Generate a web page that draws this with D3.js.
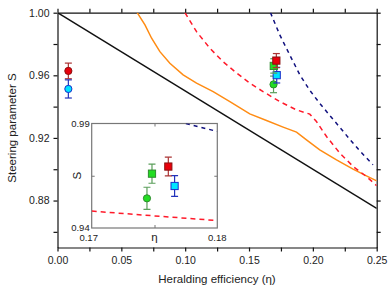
<!DOCTYPE html>
<html lang="en">
<head>
<meta charset="utf-8">
<title>Steering parameter vs heralding efficiency</title>
<script src="https://cdn.jsdelivr.net/npm/d3@7"></script>
<style>
  body { margin: 0; background: #fff; }
  text { font-family: "Liberation Sans", Arial, sans-serif; fill: #222; }
  .axis path, .axis line { stroke: #111; stroke-width: 1.2; }
  .iaxis path, .iaxis line { stroke: #777; stroke-width: 1; }
</style>
</head>
<body>
<script>
// ---- data ----
// bound lines (eta, S)
var blackLine = [[0, 1.0], [0.25, 0.875]];
var orangeCurve = [[0.0624,1.0],[0.0685,0.9922],[0.0737,0.9837],[0.0802,0.9751],[0.088,0.9677],
  [0.0984,0.9603],[0.1089,0.955],[0.1219,0.9496],[0.135,0.9432],[0.1506,0.9354],[0.1637,0.9311],
  [0.1767,0.9269],[0.1872,0.9237],[0.195,0.9188],[0.2054,0.9124],[0.2185,0.906],[0.2315,0.9001],
  [0.2419,0.8958],[0.25,0.8926]];
var redCurve = [[0.0998,1.0],[0.1089,0.9879],[0.1193,0.9773],[0.1297,0.9687],[0.1389,0.9624],
  [0.1506,0.955],[0.161,0.9496],[0.1741,0.9432],[0.1872,0.9379],[0.1976,0.9352],[0.2028,0.9305],
  [0.2107,0.9209],[0.2211,0.9103],[0.2315,0.9018],[0.2419,0.8954],[0.25,0.8895]];
var navyCurve = [[0.1668,1.0],[0.1741,0.9858],[0.1819,0.973],[0.1898,0.9603],[0.1976,0.9504],
  [0.2054,0.9421],[0.2132,0.9344],[0.2211,0.9268],[0.2289,0.9191],[0.2367,0.9118],[0.2471,0.9028]];

// measured points: eta in main plot, eta in inset, S, error
var pointNames = ["redLow", "cyanLow", "greenCircle", "greenSquare", "redSquare", "cyanSquare"];
var pointEta   = [0.0085, 0.0085, 0.1692, 0.1694, 0.1714, 0.1717];
var pointEtaIn = [null, null, 0.1744, 0.1748, 0.1761, 0.1766];
var pointS     = [0.9628, 0.9513, 0.9542, 0.9660, 0.9694, 0.9601];
var pointErr   = [0.0050, 0.0058, 0.0053, 0.0046, 0.0045, 0.0050];
var pointShape = ["circle", "circle", "circle", "square", "square", "square"];
var pointFill  = ["#e8000b", "#00e5ff", "#22dd22", "#22dd22", "#e8000b", "#00e5ff"];
var pointEdge  = ["#8b1010", "#1a2ecc", "#2e8b2e", "#2e8b2e", "#8b1010", "#1a2ecc"];
var pointBar   = ["#a33", "#2233bb", "#5a9e5a", "#5a9e5a", "#a33", "#2233bb"];

// inset lines
var insetRed  = [[0.17, 0.9481], [0.175, 0.9458], [0.1797, 0.9437]];
var insetNavy = [[0.1775, 0.99], [0.18, 0.9862]];

var xMajor = [0, 0.05, 0.10, 0.15, 0.20, 0.25];
var xMinor = [0.025, 0.075, 0.125, 0.175, 0.225];
var yMajor = [0.88, 0.92, 0.96, 1.00];
var yMinor = [0.86, 0.90, 0.94, 0.98];

var w = 390, h = 286;
var svg = d3.select("body").append("svg").attr("width", w).attr("height", h);

var x = d3.scaleLinear().domain([0, 0.25]).range([57.5, 376.7]);
var y = d3.scaleLinear().domain([0.85, 1.0]).range([247.5, 12.7]);

svg.append("clipPath").attr("id", "mainClip").append("rect")
  .attr("x", x(0)).attr("y", y(1.0)).attr("width", x(0.25) - x(0)).attr("height", y(0.85) - y(1.0));

// axes
var allX = xMajor.concat(xMinor), allY = yMajor.concat(yMinor);
function isMajor(list, d) { return list.some(function(m){ return Math.abs(m - d) < 1e-9; }); }
svg.append("g").attr("class", "axis").attr("transform", "translate(0," + y(0.85) + ")")
  .call(d3.axisBottom(x).tickValues(allX).tickSize(4).tickSizeOuter(0).tickPadding(5)
    .tickFormat(function(d){ return isMajor(xMajor, d) ? d3.format(".2f")(d) : ""; }));
svg.append("g").attr("class", "axis").attr("transform", "translate(0," + y(1.0) + ")")
  .call(d3.axisTop(x).tickValues(allX).tickSize(4).tickSizeOuter(0).tickFormat(""));
svg.append("g").attr("class", "axis").attr("transform", "translate(" + x(0) + ",0)")
  .call(d3.axisLeft(y).tickValues(allY).tickSize(4).tickSizeOuter(0).tickPadding(4)
    .tickFormat(function(d){ return isMajor(yMajor, d) ? d3.format(".2f")(d) : ""; }));
svg.append("g").attr("class", "axis").attr("transform", "translate(" + x(0.25) + ",0)")
  .call(d3.axisRight(y).tickValues(allY).tickSize(4).tickSizeOuter(0).tickFormat(""));
svg.selectAll(".axis text").style("font-size", "10.5px").attr("fill", "#222");

svg.append("text").attr("x", 217).attr("y", 283).attr("text-anchor", "middle")
  .style("font-size", "11.5px").text("Heralding efficiency (η)");
svg.append("text").attr("transform", "translate(16,128) rotate(-90)").attr("text-anchor", "middle")
  .style("font-size", "11.5px").text("Steering parameter S");

// lines
var line = d3.line().x(function(d){ return x(d[0]); }).y(function(d){ return y(d[1]); });
var plot = svg.append("g").attr("clip-path", "url(#mainClip)");
plot.append("path").attr("d", line(blackLine)).attr("fill", "none").attr("stroke", "#111").attr("stroke-width", 1.5);
plot.append("path").attr("d", line(orangeCurve)).attr("fill", "none").attr("stroke", "#ff8c14").attr("stroke-width", 1.5);
plot.append("path").attr("d", line(redCurve)).attr("fill", "none").attr("stroke", "#ff1a2a").attr("stroke-width", 1.5)
  .attr("stroke-dasharray", "5,4");
plot.append("path").attr("d", line(navyCurve)).attr("fill", "none").attr("stroke", "#10107e").attr("stroke-width", 1.5)
  .attr("stroke-dasharray", "4,4");

// points with error bars
function drawPoint(g, sx, sy, eta, i, r) {
  var cx = sx(eta), cy = sy(pointS[i]);
  var top = sy(pointS[i] + pointErr[i]), bot = sy(pointS[i] - pointErr[i]);
  g.append("line").attr("x1", cx).attr("x2", cx).attr("y1", top).attr("y2", bot).attr("stroke", pointBar[i]).attr("stroke-width", 1.2);
  [top, bot].forEach(function(yy){
    g.append("line").attr("x1", cx - 3.5).attr("x2", cx + 3.5).attr("y1", yy).attr("y2", yy)
      .attr("stroke", pointBar[i]).attr("stroke-width", 1.2);
  });
  if (pointShape[i] == "circle") {
    g.append("circle").attr("cx", cx).attr("cy", cy).attr("r", r)
      .attr("fill", pointFill[i]).attr("stroke", pointEdge[i]).attr("stroke-width", 1);
  } else {
    g.append("rect").attr("x", cx - r).attr("y", cy - r).attr("width", 2 * r).attr("height", 2 * r)
      .attr("fill", pointFill[i]).attr("stroke", pointEdge[i]).attr("stroke-width", 1);
  }
}
var pts = svg.append("g");
// red square drawn last so it sits on top like in the figure
[0, 1, 2, 5, 3, 4].forEach(function(i){ drawPoint(pts, x, y, pointEta[i], i, 3.6); });

// ---- inset ----
var ix = d3.scaleLinear().domain([0.17, 0.18]).range([91.7, 217.3]);
var iy = d3.scaleLinear().domain([0.94, 0.99]).range([228, 123.5]);
var inset = svg.append("g");
inset.append("rect").attr("x", ix(0.17)).attr("y", iy(0.99)).attr("width", ix(0.18) - ix(0.17))
  .attr("height", iy(0.94) - iy(0.99)).attr("fill", "#fff").attr("stroke", "#777").attr("stroke-width", 1.2);
svg.append("clipPath").attr("id", "insetClip").append("rect")
  .attr("x", ix(0.17)).attr("y", iy(0.99)).attr("width", ix(0.18) - ix(0.17)).attr("height", iy(0.94) - iy(0.99));

inset.append("g").attr("class", "iaxis").attr("transform", "translate(0," + iy(0.94) + ")")
  .call(d3.axisTop(ix).tickValues([0.175]).tickSize(3).tickSizeOuter(0).tickFormat(""));
inset.append("g").attr("class", "iaxis").attr("transform", "translate(0," + iy(0.99) + ")")
  .call(d3.axisBottom(ix).tickValues([0.175]).tickSize(3).tickSizeOuter(0).tickFormat(""));
inset.append("g").attr("class", "iaxis").attr("transform", "translate(" + ix(0.17) + ",0)")
  .call(d3.axisRight(iy).tickValues([0.965]).tickSize(3).tickSizeOuter(0).tickFormat(""));
inset.append("g").attr("class", "iaxis").attr("transform", "translate(" + ix(0.18) + ",0)")
  .call(d3.axisLeft(iy).tickValues([0.965]).tickSize(3).tickSizeOuter(0).tickFormat(""));
inset.selectAll(".iaxis .domain").remove();

inset.selectAll("text.ylab").data([0.99, 0.94]).enter().append("text").attr("class", "ylab")
  .attr("x", ix(0.17) - 2).attr("y", function(d, i){ return iy(d) + (i == 0 ? 3.5 : 2.5); })
  .attr("text-anchor", "end").style("font-size", "9.5px").text(function(d){ return d3.format(".2f")(d); });
inset.selectAll("text.xlab").data([0.17, 0.18]).enter().append("text").attr("class", "xlab")
  .attr("x", function(d, i){ return ix(d) + (i == 0 ? -3 : 0); }).attr("y", 241)
  .attr("text-anchor", "middle").style("font-size", "9.5px").text(function(d){ return d3.format(".2f")(d); });
inset.append("text").attr("x", ix(0.175)).attr("y", 241).attr("text-anchor", "middle")
  .style("font-size", "11.5px").text("η");
inset.append("text").attr("transform", "translate(" + (ix(0.17) - 11) + "," + iy(0.965) + ") rotate(-90)")
  .attr("text-anchor", "middle").style("font-size", "11.5px").text("S");

var ig = inset.append("g").attr("clip-path", "url(#insetClip)");
var iline = d3.line().x(function(d){ return ix(d[0]); }).y(function(d){ return iy(d[1]); });
ig.append("path").attr("d", iline(insetRed)).attr("fill", "none").attr("stroke", "#ff1a2a")
  .attr("stroke-width", 1.5).attr("stroke-dasharray", "5,4");
ig.append("path").attr("d", iline(insetNavy)).attr("fill", "none").attr("stroke", "#10107e")
  .attr("stroke-width", 1.5).attr("stroke-dasharray", "4,4");
[2, 3, 5, 4].forEach(function(i){ drawPoint(ig, ix, iy, pointEtaIn[i], i, 3.6); });
</script>
</body>
</html>
